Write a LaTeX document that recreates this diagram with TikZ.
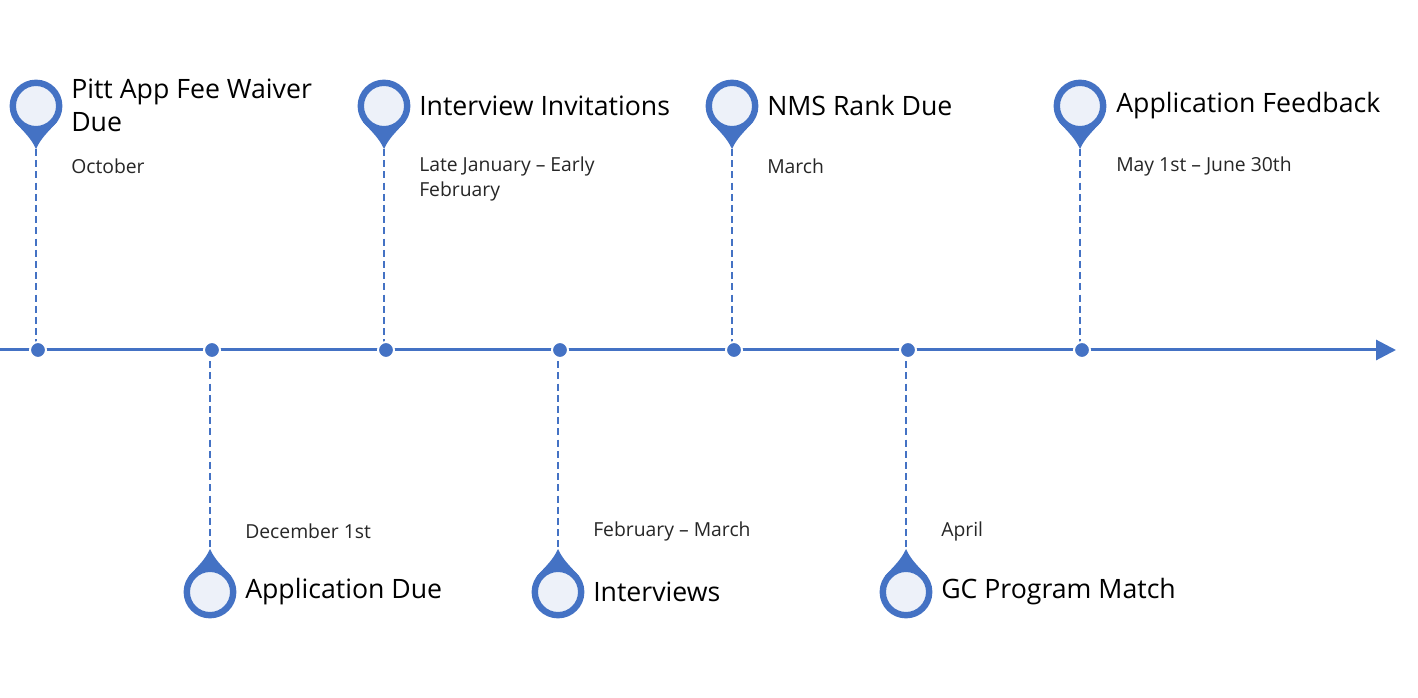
\documentclass[tikz,border=0pt]{standalone}
\usepackage{fontspec}
\setmainfont{Open Sans}
\usepackage{xcolor}
\usetikzlibrary{arrows.meta, positioning}
\definecolor{pinblue}{HTML}{4472C4}
\definecolor{pinface}{HTML}{EDF1F9}
\begin{document}
\begin{tikzpicture}[
    x=0.75pt, y=-0.75pt,
    axisline/.style={line width=2.25pt, pinblue, -{Triangle[length=15pt, width=15pt]}},
    stem/.style={pinblue, line width=1.1pt, dash pattern=on 5.2pt off 3.2pt},
    tickdot/.style={circle, fill=pinblue, draw=white, line width=1.5pt, inner sep=0pt, minimum size=12pt},
    pinhead/.style={circle, fill=pinface, draw=pinblue, line width=4.8pt, inner sep=0pt, minimum size=34.8pt},
    pintitle/.style={anchor=west, font=\fontsize{20}{25}\selectfont, align=left, inner sep=0pt, text=black},
    pindate/.style={anchor=west, font=\fontsize{14.5}{18.75}\selectfont, align=left, inner sep=0pt, text=black!85}
]
\useasboundingbox (0, 0) rectangle (1418, 698);

% axis
\coordinate (axisstart) at (0, 350);
\coordinate (axisend) at (1396, 350);
\draw[axisline] (axisstart) -- (axisend);

% pins above the axis
\foreach \n/\x in {a/36, c/384, e/732, g/1080} {
  \coordinate (tip\n) at (\x, 149);
  \coordinate (foot\n) at (\x, 350);
  \draw[stem] (tip\n) -- (foot\n);
  \fill[pinblue] (\x-21, 122) .. controls (\x-12, 132) and (\x-5, 138) .. (tip\n)
    .. controls (\x+5, 138) and (\x+12, 132) .. (\x+21, 122) -- cycle;
  \node[pinhead] (pin\n) at (\x, 106) {};
}

% pins below the axis
\foreach \n/\x in {b/210, d/558, f/906} {
  \coordinate (tip\n) at (\x, 549);
  \coordinate (foot\n) at (\x, 350);
  \draw[stem] (foot\n) -- (tip\n);
  \fill[pinblue] (\x-21, 576) .. controls (\x-12, 566) and (\x-5, 560) .. (tip\n)
    .. controls (\x+5, 560) and (\x+12, 566) .. (\x+21, 576) -- cycle;
  \node[pinhead] (pin\n) at (\x, 592) {};
}

% dots on the axis
\foreach \n/\x in {a/38, b/212, c/386, d/560, e/734, f/908, g/1082} {
  \node[tickdot] (dot\n) at (\x, 350) {};
}

% labels
\node[pintitle] (titlea) at (71, 105.5) {Pitt App Fee Waiver\\Due};
\node[pindate] (datea) at (71, 166) {October};

\node[pintitle] (titlec) at (419, 105.5) {Interview Invitations};
\node[pindate] (datec) at (419, 178.5) {Late January -- Early\\February};

\node[pintitle] (titlee) at (767, 105.5) {NMS Rank Due};
\node[pindate] (datee) at (767, 166) {March};

\node[pintitle] (titleg) at (1116, 105.5) {Application Feedback};
\node[pindate] (dateg) at (1116, 166) {May 1st -- June 30th};

\node[pintitle] (titleb) at (245, 592) {Application Due};
\node[pindate] (dateb) at (245, 531) {December 1st};

\node[pintitle] (titled) at (593, 592) {Interviews};
\node[pindate] (dated) at (593, 531) {February -- March};

\node[pintitle] (titlef) at (941, 592) {GC Program Match};
\node[pindate] (datef) at (941, 531) {April};
\end{tikzpicture}
\end{document}
